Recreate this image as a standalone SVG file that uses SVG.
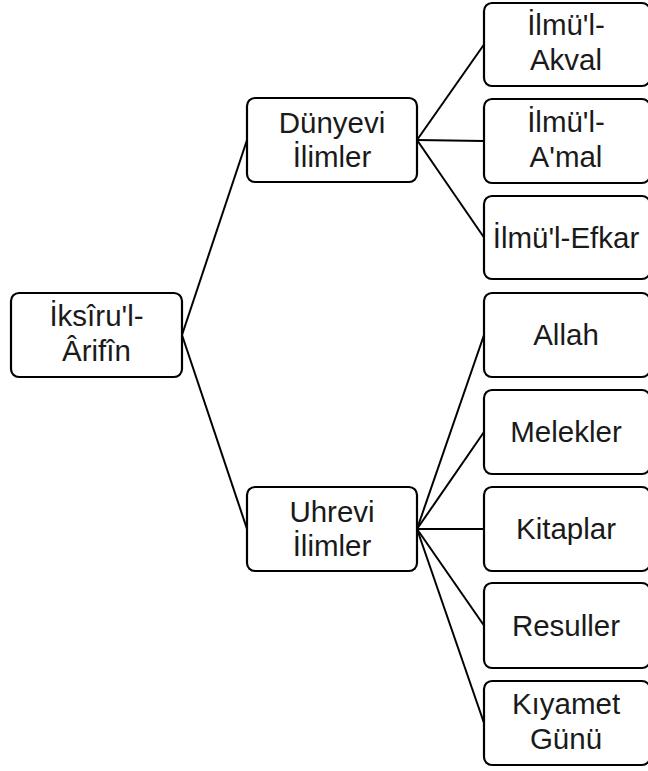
<svg xmlns="http://www.w3.org/2000/svg" width="648" height="771" viewBox="0 0 648 771">
<style>
.box{fill:#fff;stroke:#000;stroke-width:2.2}
.lbl{font-family:"Liberation Sans",Arial,sans-serif;font-size:29.5px;fill:#1a1a1a;text-anchor:middle}
.conn line{stroke:#000;stroke-width:2}
</style>
<rect width="648" height="771" fill="#fff"/>
<g id="connectors" class="conn">
<line x1="182" y1="335" x2="247" y2="140"/>
<line x1="182" y1="335" x2="247" y2="529"/>
<line x1="417" y1="140" x2="484" y2="44.5"/>
<line x1="417" y1="140" x2="484" y2="141"/>
<line x1="417" y1="140" x2="484" y2="237.5"/>
<line x1="417" y1="529" x2="484" y2="335"/>
<line x1="417" y1="529" x2="484" y2="432"/>
<line x1="417" y1="529" x2="484" y2="529"/>
<line x1="417" y1="529" x2="484" y2="625.5"/>
<line x1="417" y1="529" x2="484" y2="723"/>
</g>
<g id="root">
<rect class="box" x="11" y="293" width="171" height="84" rx="8"/>
<text class="lbl" x="96.5" y="326">İksîru'l-</text>
<text class="lbl" x="96.5" y="361">Ârifîn</text>
</g>
<g id="dunyevi">
<rect class="box" x="247" y="98" width="170" height="84" rx="8"/>
<text class="lbl" x="332" y="133">Dünyevi</text>
<text class="lbl" x="332" y="167">İlimler</text>
</g>
<g id="uhrevi">
<rect class="box" x="247" y="487" width="170" height="84" rx="8"/>
<text class="lbl" x="332" y="522">Uhrevi</text>
<text class="lbl" x="332" y="556">İlimler</text>
</g>
<g id="akval">
<rect class="box" x="484" y="3" width="166" height="83" rx="8"/>
<text class="lbl" x="566" y="35">İlmü'l-</text>
<text class="lbl" x="566" y="70">Akval</text>
</g>
<g id="amal">
<rect class="box" x="484" y="99" width="166" height="84" rx="8"/>
<text class="lbl" x="566" y="132">İlmü'l-</text>
<text class="lbl" x="566" y="167">A'mal</text>
</g>
<g id="efkar">
<rect class="box" x="484" y="196" width="166" height="83" rx="8"/>
<text class="lbl" x="566" y="248">İlmü'l-Efkar</text>
</g>
<g id="allah">
<rect class="box" x="484" y="293" width="166" height="84" rx="8"/>
<text class="lbl" x="566" y="345">Allah</text>
</g>
<g id="melekler">
<rect class="box" x="484" y="390" width="166" height="84" rx="8"/>
<text class="lbl" x="566" y="442">Melekler</text>
</g>
<g id="kitaplar">
<rect class="box" x="484" y="487" width="166" height="84" rx="8"/>
<text class="lbl" x="566" y="539">Kitaplar</text>
</g>
<g id="resuller">
<rect class="box" x="484" y="583" width="166" height="85" rx="8"/>
<text class="lbl" x="566" y="636">Resuller</text>
</g>
<g id="kiyamet">
<rect class="box" x="484" y="681" width="166" height="84" rx="8"/>
<text class="lbl" x="566" y="714">Kıyamet</text>
<text class="lbl" x="566" y="749">Günü</text>
</g>
</svg>
